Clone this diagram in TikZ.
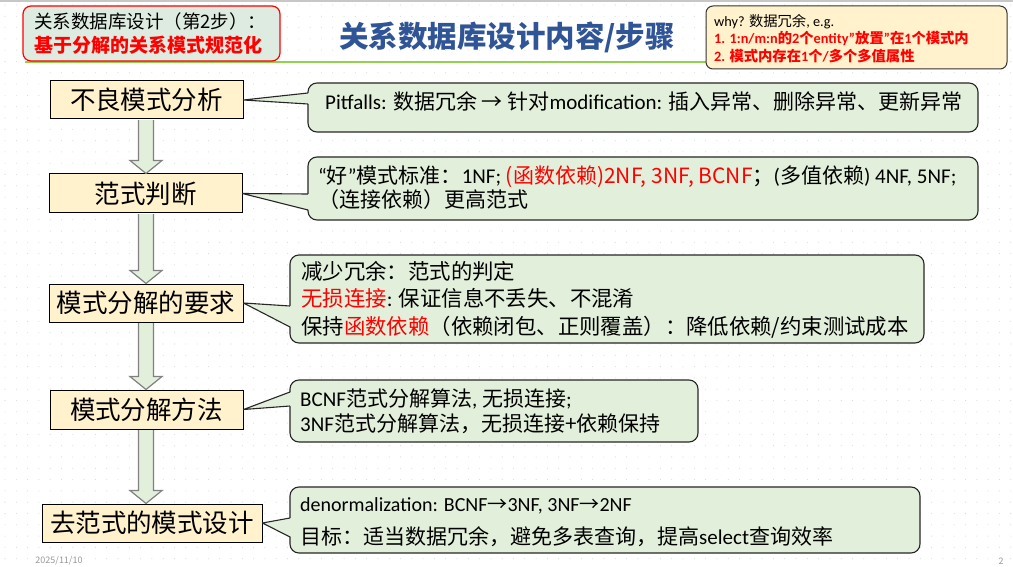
\documentclass[tikz,border=0pt]{standalone}
\usepackage{fontspec}
\setmainfont{Noto Sans CJK SC}
\newfontfamily\latf{Carlito}
\usetikzlibrary{calc}
\definecolor{boxfill}{HTML}{FFF2CC}
\definecolor{calfill}{HTML}{E2EFDA}
\definecolor{tlfill}{HTML}{DDEBE0}
\definecolor{titleblue}{HTML}{2F5597}
\definecolor{lgreen}{HTML}{92D050}
\definecolor{dotc}{HTML}{D3DDD8}
\definecolor{rd}{HTML}{FF0000}
\tikzset{
  stepbox/.style={draw=black, line width=1pt, fill=boxfill, minimum height=38, inner sep=0, font=\fontsize{25.5}{28}\selectfont},
  callbox/.style={draw=black!85, line width=1.1pt, fill=calfill, rounded corners=9, inner sep=0},
  ptr/.style={draw=black!85, line width=1.1pt, line join=round},
  barrow/.style={draw=black!50, fill=calfill, line width=1.2pt, line join=miter},
  ctext/.style={anchor=west, align=left, inner sep=0, font=\fontsize{21}{27.5}\selectfont},
}
\newcommand\blockarr[2]{%
  \draw[barrow] ($(#1.south -| ax)+(-7.5,0.6)$) -- ($(#2.north -| ax)+(-7.5,-13)$) -- ($(#2.north -| ax)+(-16,-13)$) -- (#2.north -| ax) -- ($(#2.north -| ax)+(16,-13)$) -- ($(#2.north -| ax)+(7.5,-13)$) -- ($(#1.south -| ax)+(7.5,0.6)$);}
\newcommand\pointer[4]{% box, callout, top point, bottom point
  \fill[calfill] (#1.east) -- ($(#3)+(1.4,0)$) -- ($(#4)+(1.4,0)$) -- cycle;
  \draw[ptr] (#3) -- (#1.east) -- (#4);}
\begin{document}
\begin{tikzpicture}[x=1pt,y=-1pt]
\useasboundingbox (0,0) rectangle (1013,567);
\fill[white] (0,0) rectangle (1013,567);
% dotted background
\foreach \i in {0,...,89}{\foreach \j in {0,...,50}{\fill[dotc] (\i*11.3+5,\j*11.3+5) circle (0.55);}}
\draw[black!22, line width=2pt] (0,1) -- (1013,1);
% header line
\draw[lgreen, line width=2.5pt] (25,62) -- (706,62);
% top-left box
\node[draw=rd, line width=1.2pt, fill=tlfill, rounded corners=8, minimum width=257, minimum height=55, inner sep=0] (tl) at (151.5,33.5) {};
\node[anchor=west, inner sep=0, font=\fontsize{18.5}{22}\selectfont] (tl1) at (34,21) {关系数据库设计（第2步）：};
\node[anchor=west, inner sep=0, text=rd, font=\bfseries\fontsize{19}{22}\selectfont] (tl2) at (34,45) {基于分解的关系模式规范化};
% title
\node[font=\bfseries\fontsize{29.5}{32}\selectfont, text=titleblue, inner sep=0] (title) at (507,37) {关系数据库设计内容/步骤};
% top-right box
\node[draw=black!80, line width=1pt, fill=boxfill, rounded corners=7, minimum width=301, minimum height=63, inner sep=0] (tr) at (856.5,37.5) {};
\node[anchor=west, align=left, inner sep=0, font=\fontsize{14.3}{17.5}\selectfont] (trt) at (714,38.5) {{\latf why? }数据冗余{\latf , e.g.}\\
{\color{rd}\bfseries {\latf 1. 1:n/m:n}的{\latf 2}个{\latf entity”}放置{\latf ”}在{\latf 1}个模式内}\\
{\color{rd}\bfseries {\latf 2. }模式内存在{\latf 1}个{\latf /}多个多值属性}};
% step boxes
\node[stepbox, minimum width=193] (b1) at (146.5,100) {不良模式分析};
\node[stepbox, minimum width=193, minimum height=39] (b2) at (145.5,193.5) {范式判断};
\node[stepbox, minimum width=194] (b3) at (146,303) {模式分解的要求};
\node[stepbox, minimum width=193, minimum height=39] (b4) at (146.5,409.5) {模式分解方法};
\node[stepbox, minimum width=220] (b5) at (152,523) {去范式的模式设计};
\coordinate (ax) at (146,0);
\blockarr{b1}{b2}
\blockarr{b2}{b3}
\blockarr{b3}{b4}
\blockarr{b4}{b5}
% callouts
\node[callbox, minimum width=670, minimum height=49] (c1) at (643,107.5) {};
\node[callbox, minimum width=670, minimum height=63] (c2) at (643,188.5) {};
\node[callbox, minimum width=634, minimum height=88] (c3) at (607,299) {};
\node[callbox, minimum width=408, minimum height=62] (c4) at (494,411) {};
\node[callbox, minimum width=630, minimum height=66] (c5) at (605,520) {};
\coordinate (p1a) at (308,93);  \coordinate (p1b) at (308,104);
\coordinate (p2a) at (308,194); \coordinate (p2b) at (308,210);
\coordinate (p3a) at (290,306); \coordinate (p3b) at (290,327);
\coordinate (p4a) at (290,392); \coordinate (p4b) at (290,406);
\coordinate (p5a) at (290,518); \coordinate (p5b) at (290,537);
\pointer{b1}{c1}{p1a}{p1b}
\pointer{b2}{c2}{p2a}{p2b}
\pointer{b3}{c3}{p3a}{p3b}
\pointer{b4}{c4}{p4a}{p4b}
\pointer{b5}{c5}{p5a}{p5b}
% callout texts
\node[ctext] (t1) at (325,101) {{\latf Pitfalls: }数据冗余 → 针对{\latf modification: }插入异常、删除异常、更新异常};
\node[ctext, font=\fontsize{21}{24}\selectfont] (t2) at (318,188) {{\latf “}好{\latf ”}模式标准：{\latf 1NF; }{\color{rd}(函数依赖)2NF, 3NF, BCNF}；{\latf (}多值依赖{\latf ) 4NF, 5NF;}\\（连接依赖）更高范式};
\node[ctext, font=\fontsize{21.4}{27.5}\selectfont] (t3) at (301,299.5) {减少冗余：范式的判定\\{\color{rd}无损连接}{\latf :} 保证信息不丢失、不混淆\\保持{\color{rd}函数依赖}（依赖闭包、正则覆盖）：降低依赖/约束测试成本};
\node[ctext, font=\fontsize{21}{25}\selectfont] (t4) at (300,411.5) {{\latf BCNF}范式分解算法{\latf , }无损连接{\latf ;}\\{\latf 3NF}范式分解算法，无损连接+依赖保持};
\node[ctext, font=\fontsize{20}{24}\selectfont] (t5a) at (300,506) {{\latf denormalization: BCNF}→{\latf 3NF, 3NF}→{\latf 2NF}};
\node[ctext, font=\fontsize{21}{24}\selectfont] (t5b) at (300,537) {目标：适当数据冗余，避免多表查询，提高{\latf select}查询效率};
% footer
\node[text=black!40, font=\fontsize{9}{10}\selectfont, inner sep=0] (date) at (59,561) {2025/11/10};
\node[text=black!40, font=\fontsize{9}{10}\selectfont, inner sep=0] (pg) at (1001,561) {2};
\end{tikzpicture}
\end{document}
